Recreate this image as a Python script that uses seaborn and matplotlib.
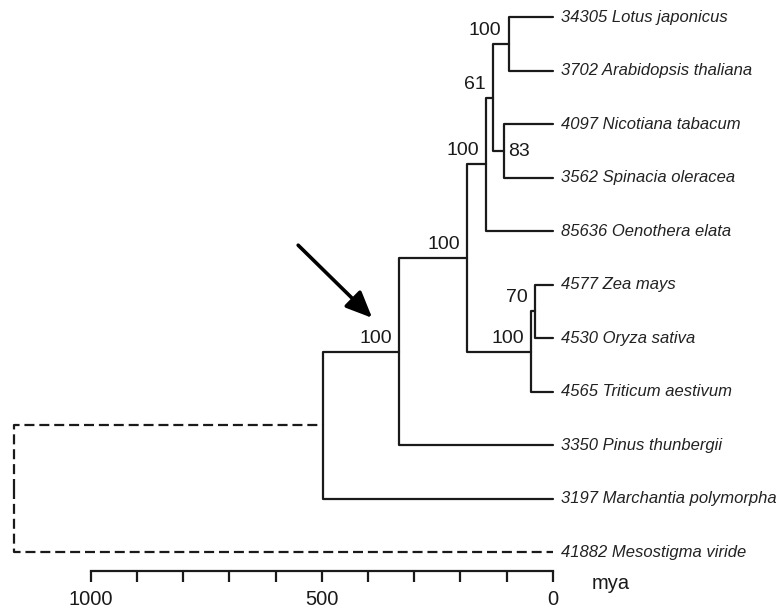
import numpy as np
import pandas as pd
import matplotlib
matplotlib.use("Agg")
import matplotlib.pyplot as plt
import seaborn as sns

# Leaves, top to bottom
taxa = [
    "34305 Lotus japonicus",
    "3702 Arabidopsis thaliana",
    "4097 Nicotiana tabacum",
    "3562 Spinacia oleracea",
    "85636 Oenothera elata",
    "4577 Zea mays",
    "4530 Oryza sativa",
    "4565 Triticum aestivum",
    "3350 Pinus thunbergii",
    "3197 Marchantia polymorpha",
    "41882 Mesostigma viride",
]

# Internal nodes: children, age (mya), bootstrap support
node_names = ["LA", "NS", "N61", "EUD", "ZO", "MONO", "ANG", "SEED", "LAND", "ROOT"]
node_children = [
    ("34305 Lotus japonicus", "3702 Arabidopsis thaliana"),
    ("4097 Nicotiana tabacum", "3562 Spinacia oleracea"),
    ("LA", "NS"),
    ("N61", "85636 Oenothera elata"),
    ("4577 Zea mays", "4530 Oryza sativa"),
    ("ZO", "4565 Triticum aestivum"),
    ("EUD", "MONO"),
    ("ANG", "3350 Pinus thunbergii"),
    ("SEED", "3197 Marchantia polymorpha"),
    ("LAND", "41882 Mesostigma viride"),
]
node_ages = [96, 107, 130, 145, 39, 48, 185, 333, 497, 1166]
node_support = [100, 83, 61, 100, 70, 100, 100, 100, None, None]

dashed_parents = ["ROOT"]
right_labels = ["NS"]   # support value written to the right of the node

scale_ticks = list(range(0, 1001, 100))
scale_labels = {0: "0", 500: "500", 1000: "1000"}

# ---- layout of the tree ----
ypos = {t: i for i, t in enumerate(taxa)}
xpos = {t: 0 for t in taxa}
for name, kids, age in zip(node_names, node_children, node_ages):
    ypos[name] = np.mean([ypos[k] for k in kids])
    xpos[name] = age

rows = []
seg = 0
for name, kids in zip(node_names, node_children):
    kind = "dashed" if name in dashed_parents else "solid"
    for k in kids:
        for x, y in [(xpos[name], ypos[name]), (xpos[name], ypos[k]), (xpos[k], ypos[k])]:
            rows.append({"seg": seg, "x": x, "y": y, "kind": kind})
        seg += 1
edges = pd.DataFrame(rows)

sns.set_theme(style="white")
plt.rcParams["font.family"] = ["Liberation Sans", "DejaVu Sans"]

fig = plt.figure(figsize=(7.81, 6.09), dpi=100)
ax = fig.add_axes([0, 0, 1, 1])

sns.lineplot(
    data=edges, x="x", y="y", units="seg", estimator=None, sort=False,
    style="kind", dashes={"solid": "", "dashed": (4.5, 2.2)},
    color="#1a1a1a", linewidth=1.6, legend=False, ax=ax,
)

# leaf names
for t in taxa:
    ax.annotate(t, (0, ypos[t]), xytext=(8, 0), textcoords="offset pixels",
                ha="left", va="center", fontsize=12, style="italic", color="#222222")

# bootstrap values
for name, sup in zip(node_names, node_support):
    if sup is None:
        continue
    if name in right_labels:
        ax.annotate(str(sup), (xpos[name], ypos[name]), xytext=(5, 0),
                    textcoords="offset pixels", ha="left", va="center",
                    fontsize=14, color="#1a1a1a")
    else:
        ax.annotate(str(sup), (xpos[name], ypos[name]), xytext=(-7, 5),
                    textcoords="offset pixels", ha="right", va="bottom",
                    fontsize=14, color="#1a1a1a")

# arrow pointing at the seed plant node
ax.annotate("", xy=(391, 5.62), xytext=(551, 4.26),
            arrowprops=dict(arrowstyle="-|>,head_length=0.8,head_width=0.35",
                            lw=2.6, color="black", mutation_scale=20,
                            shrinkA=0, shrinkB=0))

# time scale bar
ax.set_xlim(1195.7, -493)
ax.set_ylim(11.066, -0.327)
for s in ["top", "left", "right"]:
    ax.spines[s].set_visible(False)
ax.spines["bottom"].set_position(("data", 10.35))
ax.spines["bottom"].set_bounds(0, 1000)
ax.spines["bottom"].set_linewidth(1.6)
ax.spines["bottom"].set_color("#1a1a1a")
ax.set_xticks(scale_ticks)
ax.set_xticklabels([scale_labels.get(t, "") for t in scale_ticks])
ax.tick_params(axis="x", direction="out", length=8, width=1.6, pad=6,
               labelsize=14.5, colors="#1a1a1a", bottom=True)
ax.set_yticks([])
ax.set_xlabel("")
ax.set_ylabel("")
ax.text(-84, 10.58, "mya", ha="left", va="center", fontsize=14.5, color="#1a1a1a")

fig.savefig("out.png", dpi=100)
